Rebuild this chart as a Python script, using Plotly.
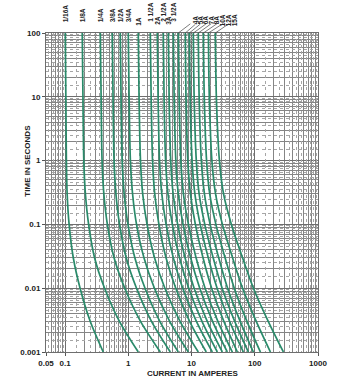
import math
import plotly.graph_objects as go

# Opening time samples (seconds) shared by every curve
TIME_S = [100, 10, 1, 0.3, 0.1, 0.03, 0.01, 0.003, 0.001]

# Current (amperes) at which each fuse rating opens, at the times above
I_1_16 = [0.101, 0.103, 0.105, 0.108, 0.116, 0.135, 0.173, 0.251, 0.402]
I_1_8 = [0.187, 0.192, 0.198, 0.210, 0.236, 0.293, 0.422, 0.728, 1.44]
I_1_4 = [0.361, 0.372, 0.385, 0.411, 0.467, 0.596, 0.881, 1.57, 3.21]
I_3_8 = [0.558, 0.574, 0.596, 0.638, 0.728, 0.927, 1.35, 2.34, 4.62]
I_1_2 = [0.747, 0.769, 0.800, 0.861, 0.989, 1.27, 1.84, 3.17, 6.18]
I_3_4 = [1.00, 1.03, 1.08, 1.17, 1.35, 1.77, 2.59, 4.54, 8.90]
I_1 = [1.44, 1.48, 1.56, 1.69, 1.98, 2.60, 3.79, 6.62, 12.8]
I_1_5 = [2.23, 2.30, 2.42, 2.62, 3.05, 3.95, 5.63, 9.37, 17.1]
I_2 = [2.88, 2.96, 3.12, 3.39, 3.96, 5.15, 7.26, 12.0, 21.3]
I_2_5 = [3.58, 3.68, 3.89, 4.24, 4.97, 6.46, 9.03, 14.7, 25.6]
I_3 = [4.30, 4.42, 4.69, 5.12, 6.03, 7.89, 11.0, 17.8, 30.7]
I_3_5 = [5.15, 5.31, 5.65, 6.18, 7.35, 9.68, 13.5, 21.6, 36.8]
I_4 = [6.18, 6.37, 6.78, 7.45, 8.93, 11.8, 16.4, 26.2, 44.2]
I_5 = [7.98, 8.18, 8.73, 9.62, 11.5, 15.2, 20.8, 32.6, 53.1]
I_6 = [9.23, 9.50, 10.2, 11.3, 13.7, 18.4, 25.4, 40.2, 66.1]
I_7 = [10.7, 11.0, 11.9, 13.2, 16.2, 22.0, 30.5, 48.4, 79.2]
I_8 = [12.8, 13.2, 14.3, 16.0, 19.7, 26.9, 37.2, 59.0, 95.0]
I_10 = [15.4, 15.9, 17.3, 19.4, 24.3, 33.9, 47.4, 75.5, 123]
I_12 = [18.5, 19.1, 21.0, 24.0, 30.8, 44.6, 64.1, 106, 177]
I_15 = [23.8, 24.7, 27.6, 32.1, 42.7, 64.1, 95.3, 164, 284]

RATINGS = ["1/16A", "1/8A", "1/4A", "3/8A", "1/2A", "3/4A", "1A", "1 1/2A",
           "2A", "2 1/2A", "3A", "3 1/2A", "4A", "5A", "6A", "7A", "8A",
           "10A", "12A", "15A"]
CURVES = [I_1_16, I_1_8, I_1_4, I_3_8, I_1_2, I_3_4, I_1, I_1_5, I_2, I_2_5,
          I_3, I_3_5, I_4, I_5, I_6, I_7, I_8, I_10, I_12, I_15]

X_TICKS = [0.05, 0.1, 1, 10, 100, 1000]
X_TICK_TEXT = ["0.05", "0.1", "1", "10", "100", "1000"]
Y_TICKS = [0.001, 0.01, 0.1, 1, 10, 100]
Y_TICK_TEXT = ["0.001", "0.01", "0.1", "1", "10", "100"]

# label placement: the larger ratings get offset labels with leader lines
LABEL_LIFT = [9, 9, 9, 9, 9, 9, 5, 9, 6, 9, 6, 9]
LEADER_DX = [17, 15, 16, 18, 18, 19, 20, 19]

GREEN = "#2a8a6a"
FONT = "Liberation Sans, Arial, sans-serif"
NARROW = "Liberation Sans Narrow, Arial Narrow, Liberation Sans, sans-serif"

X_RANGE = [math.log10(0.05), 3]
Y_RANGE = [-3, 2]


def grid_values(lo, hi, mults):
    vals = []
    for k in range(-4, 4):
        for m in mults:
            v = m * 10 ** k
            if lo * 0.999 <= v <= hi * 1.001:
                vals.append(v)
    return vals


fig = go.Figure()

for name, cur in zip(RATINGS, CURVES):
    fig.add_trace(go.Scatter(
        x=cur, y=TIME_S, mode="lines", name=name,
        line=dict(color=GREEN, width=1.7, shape="spline", smoothing=0.8),
        showlegend=False, hoverinfo="skip"))

# empty trace so the fine-grid overlay axes are built
fig.add_trace(go.Scatter(x=[], y=[], xaxis="x2", yaxis="y2", showlegend=False))

decade_grid = "#6e6e6e"
major_grid = "#858585"
fine_grid = "#a6a6a6"

fig.update_layout(
    width=349, height=384,
    margin=dict(l=46, r=31, t=33, b=32),
    paper_bgcolor="white", plot_bgcolor="white",
    xaxis=dict(
        type="log", range=X_RANGE, tickmode="array",
        tickvals=X_TICKS, ticktext=X_TICK_TEXT,
        ticks="outside", ticklen=3, tickcolor="#555", tickwidth=1,
        tickfont=dict(family=FONT, size=8, color="#222", weight="bold"),
        showgrid=True, gridcolor=decade_grid, gridwidth=1,
        minor=dict(tickmode="array",
                   tickvals=grid_values(0.05, 1000, [2, 3, 4, 5, 6, 7, 8, 9]),
                   showgrid=True, gridcolor=major_grid, gridwidth=1, ticks=""),
        showline=True, linecolor=decade_grid, mirror=True, zeroline=False,
    ),
    yaxis=dict(
        type="log", range=Y_RANGE, tickmode="array",
        tickvals=Y_TICKS, ticktext=Y_TICK_TEXT,
        ticks="outside", ticklen=3, tickcolor="#555", tickwidth=1,
        tickfont=dict(family=FONT, size=8, color="#222", weight="bold"),
        showgrid=True, gridcolor=decade_grid, gridwidth=1,
        minor=dict(tickmode="array",
                   tickvals=grid_values(0.001, 100, [2, 3, 4, 5, 6, 7, 8, 9]),
                   showgrid=True, gridcolor=major_grid, gridwidth=1, ticks=""),
        showline=True, linecolor=decade_grid, mirror=True, zeroline=False,
    ),
    xaxis2=dict(
        type="log", range=X_RANGE, overlaying="x", anchor="y",
        tickmode="array",
        tickvals=grid_values(0.05, 1000, [1.5, 2.5, 3.5, 4.5, 5.5, 6.5, 7.5, 8.5, 9.5]),
        showticklabels=False, ticks="", showgrid=True,
        gridcolor=fine_grid, griddash="dot", gridwidth=1, zeroline=False,
    ),
    yaxis2=dict(
        type="log", range=Y_RANGE, overlaying="y", anchor="x",
        tickmode="array",
        tickvals=grid_values(0.001, 100, [1.5, 2.5, 3.5, 4.5, 5.5, 6.5, 7.5, 8.5, 9.5]),
        showticklabels=False, ticks="", showgrid=True,
        gridcolor=fine_grid, griddash="dot", gridwidth=1, zeroline=False,
    ),
)

annotations = [
    dict(text="CURRENT IN AMPERES", xref="paper", yref="paper",
         x=0.54, y=-0.066, xanchor="center", yanchor="middle", showarrow=False,
         font=dict(family=FONT, size=8, color="#222", weight="bold")),
    dict(text="TIME IN SECONDS", xref="paper", yref="paper",
         x=-0.066, y=0.6, xanchor="center", yanchor="middle", showarrow=False,
         textangle=-90,
         font=dict(family=FONT, size=8, color="#222", weight="bold")),
]

label_font = dict(family=NARROW, size=6.5, color="#222", weight="bold")
for i, (name, cur) in enumerate(zip(RATINGS, CURVES)):
    x_top = math.log10(cur[0])
    if i < len(LABEL_LIFT):
        annotations.append(dict(
            text=name, xref="x", yref="paper", x=x_top, y=1,
            xanchor="center", yanchor="bottom", yshift=LABEL_LIFT[i],
            textangle=-90, showarrow=False, font=label_font))
    else:
        j = i - len(LABEL_LIFT)
        annotations.append(dict(
            text=name, xref="x", yref="y", x=x_top, y=2,
            ax=LEADER_DX[j], ay=-13, axref="pixel", ayref="pixel",
            textangle=-90, showarrow=True, arrowhead=0, arrowwidth=0.7,
            arrowcolor="#444", standoff=0, startstandoff=0,
            font=label_font))

fig.update_layout(annotations=annotations)

fig.write_html("out.html")
